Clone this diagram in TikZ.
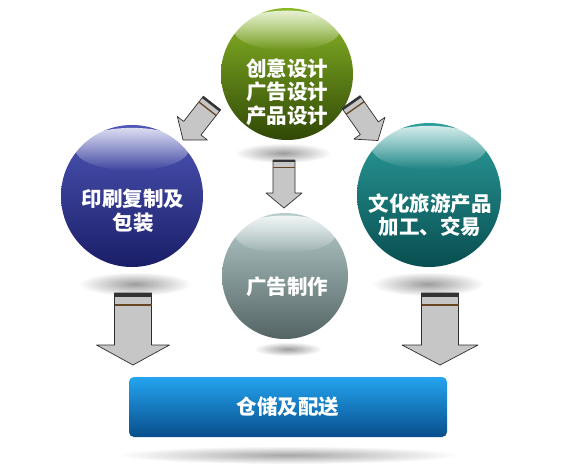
\documentclass[tikz,border=0pt]{standalone}
\usepackage{fontspec}
\newfontfamily\cjk{Noto Sans CJK SC}
\usetikzlibrary{fadings,calc}

\definecolor{verdechiaro}{RGB}{138,184,38}
\definecolor{verdescuro}{RGB}{48,72,6}
\definecolor{bluchiaro}{RGB}{78,86,182}
\definecolor{bluscuro}{RGB}{26,30,104}
\definecolor{tealchiaro}{RGB}{44,158,156}
\definecolor{tealscuro}{RGB}{8,78,80}
\definecolor{grigiochiaro}{RGB}{182,204,204}
\definecolor{grigioscuro}{RGB}{84,100,100}
\definecolor{scatolachiara}{RGB}{36,164,240}
\definecolor{scatolascura}{RGB}{8,78,140}

\tikzfading[name=ombra, inner color=transparent!30, outer color=transparent!100]

\tikzset{
  testo/.style={text=white, align=center,
                font=\cjk\bfseries\fontsize{20.5}{23.5}\selectfont},
  pics/freccia/.style n args={4}{code={% lunghezza, asta, punta, testa
    \pgfmathsetmacro{\asta}{#2/2}
    \pgfmathsetmacro{\punta}{#3/2}
    \pgfmathsetmacro{\collo}{#1-#4}
    \shade[left color=gray!45, middle color=white, right color=gray!45,
           draw=gray!35!black, line width=0.7pt, line join=round]
      (-\asta,0) -- (\asta,0) -- (\asta,\collo) -- (\punta,\collo) -- (0,#1)
      -- (-\punta,\collo) -- (-\asta,\collo) -- cycle;
    \fill[gray!40!black] (-\asta,0) rectangle (\asta,0.1*#2); % tappo
    \fill[brown!55!black] (-\asta,0.3*#2) rectangle (\asta,0.36*#2); % fascia
  }}
}

\begin{document}
\begin{tikzpicture}[x=1pt,y=-1pt]
\useasboundingbox (0,0) rectangle (569,472);

% ombre
\fill[black!55, path fading=ombra] (283,153) ellipse [x radius=48, y radius=10];
\fill[black!55, path fading=ombra] (135,284) ellipse [x radius=56, y radius=12];
\fill[black!55, path fading=ombra] (428,284) ellipse [x radius=56, y radius=12];
\fill[black!55, path fading=ombra] (288,349) ellipse [x radius=34, y radius=7];
\fill[black!50, path fading=ombra] (288,455) ellipse [x radius=170, y radius=9];

% sfere
\foreach \nome/\x/\y/\r/\col in {verde/287/74/66/verde, blu/132/196/71/blu,
                                 teal/429/195/72/teal, grigio/285/276/63/grigio}
{
  \node[circle, inner sep=0pt, minimum size=2*\r pt,
        top color=\col chiaro, bottom color=\col scuro] (\nome) at (\x,\y) {};
  \fill[white, path fading=south, fill opacity=0.8]
    ($(\nome)+(0,-0.66*\r)$) ellipse [x radius=0.8*\r, y radius=0.3*\r];
}

\node[testo] (t-verde) at (287,92) {创意设计\\广告设计\\产品设计};
\node[testo] (t-blu) at (133,211) {印刷复制及\\包装};
\node[testo] (t-teal) at (430,215) {文化旅游产品\\加工、交易};
\node[testo] (t-grigio) at (287,287) {广告制作};

% scatola in basso
\node[rounded corners=5pt, minimum width=318pt, minimum height=60pt,
      top color=scatolachiara, bottom color=scatolascura, testo]
     (magazzino) at (288,407) {仓储及配送};

% frecce
\pic[rotate=-38] at (212,103) {freccia={47}{22}{38}{15}};
\pic[rotate=35] at (351,102) {freccia={47}{22}{38}{15}};
\pic at (284,160) {freccia={48}{22}{36}{15}};
\pic at (133,293) {freccia={72}{37}{73}{20}};
\pic at (440,293) {freccia={72}{37}{76}{20}};

\end{tikzpicture}
\end{document}
